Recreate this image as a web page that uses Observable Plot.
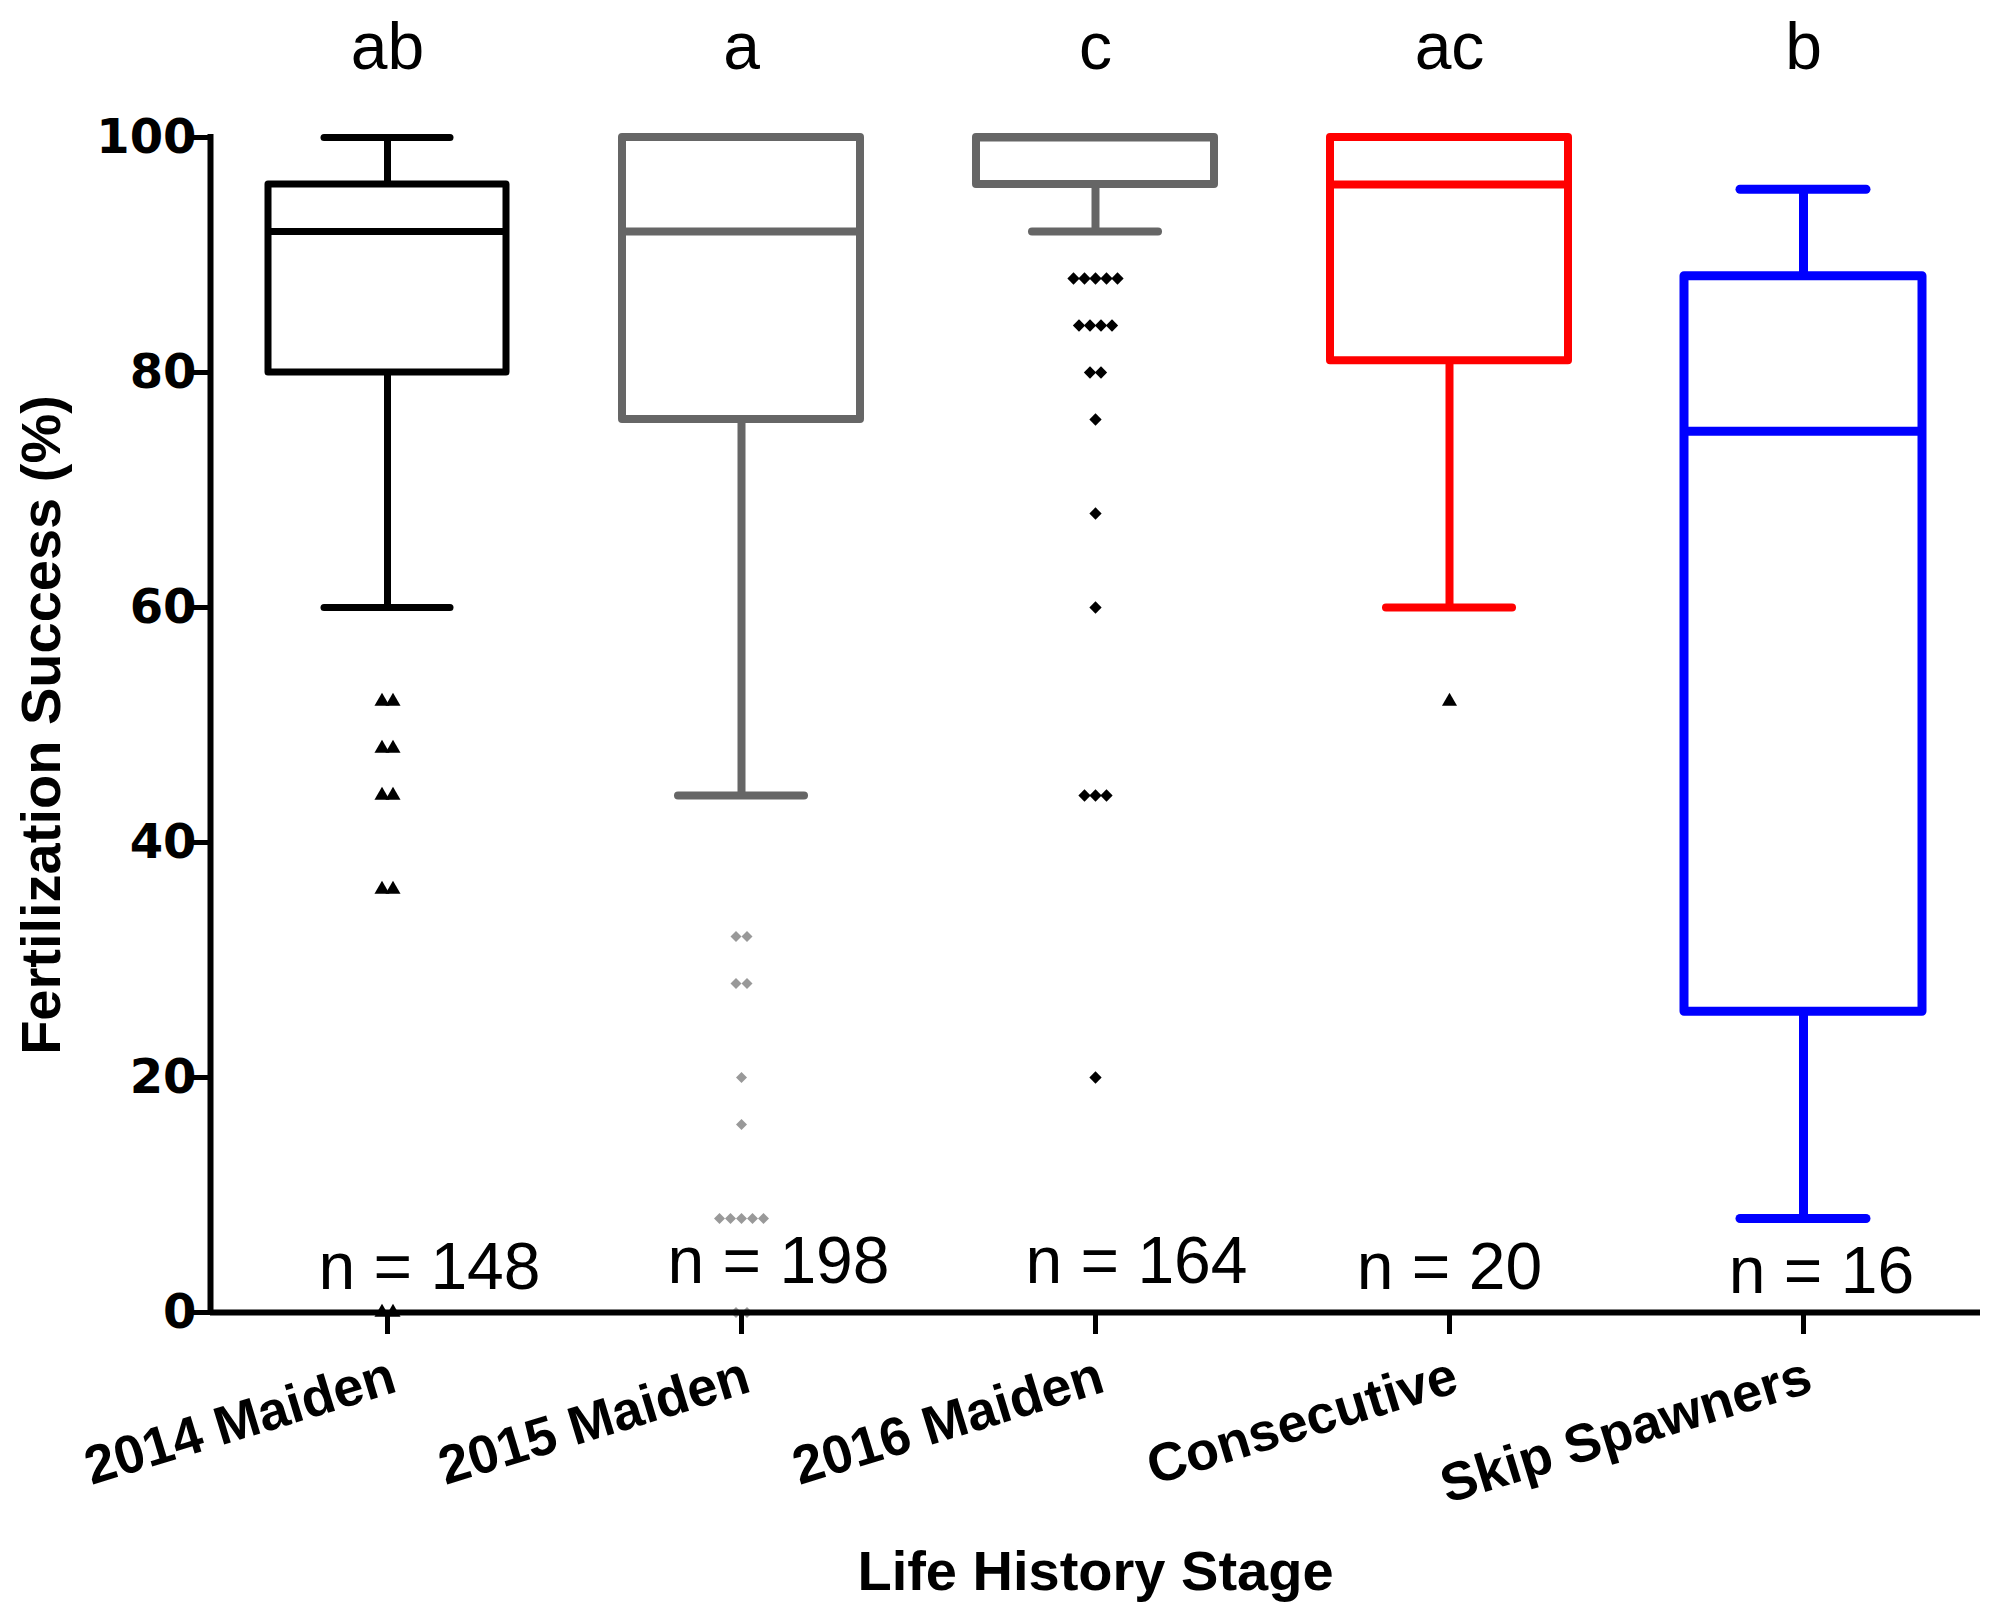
<!DOCTYPE html>
<html><head><meta charset="utf-8">
<script src="https://cdn.jsdelivr.net/npm/d3@7"></script>
<script src="https://cdn.jsdelivr.net/npm/@observablehq/plot@0.6"></script>
<style>html,body{margin:0;padding:0;background:#fff}</style>
</head><body><div id="chart"></div>
<script>
// ---- data ----
const stages = ["2014 Maiden", "2015 Maiden", "2016 Maiden", "Consecutive", "Skip Spawners"];
const whiskerLow  = [60, 44, 92, 60, 8];
const q1          = [80, 76, 96, 81, 25.6];
const median      = [92, 92, 100, 96, 75];
const q3          = [96, 100, 100, 100, 88.2];
const whiskerHigh = [100, 100, 100, 100, 95.6];
const sampleSizes = [148, 198, 164, 20, 16];
const groupLetters = ["ab", "a", "c", "ac", "b"];
const outlierValues = [
  [52, 52, 48, 48, 44, 44, 36, 36, 0, 0],
  [32, 32, 28, 28, 20, 16, 8, 8, 8, 8, 8, 0, 0],
  [88, 88, 88, 88, 88, 84, 84, 84, 84, 80, 80, 76, 68, 60, 44, 44, 44, 20],
  [52],
  []
];
const yTicks = [0, 20, 40, 60, 80, 100];

// ---- styles ----
const boxColors = ["#000000", "#666666", "#666666", "#ff0000", "#0000ff"];
const boxStrokeWidths = [7, 8, 8, 8, 9];
const diamond = {draw(ctx, size) { const h = Math.sqrt(size / 2); ctx.moveTo(0, -h); ctx.lineTo(h, 0); ctx.lineTo(0, h); ctx.lineTo(-h, 0); ctx.closePath(); }};
const outlierSymbols = [d3.symbolTriangle, diamond, diamond, d3.symbolTriangle, null];
const outlierRadii = [5.6, 4.4, 4.9, 5.6, 0];
const outlierColors = ["#000000", "#999999", "#000000", "#000000", "#000000"];
const outlierSpacing = 11;
const nLabelDx = [42, 37, 41, 0, 18];
const nLabelDy = [-24, -30, -30, -24, -20];

const W = 1996, H = 1608, ML = 210, MR = 16, MT = 137, MB = 296;
const halfBand = (W - ML - MR) / stages.length / 2;
const boxInset = 58, capInset = 114;

const boxes = stages.map((stage, i) => ({stage, lo: whiskerLow[i], q1: q1[i], med: median[i], q3: q3[i], hi: whiskerHigh[i], color: boxColors[i], sw: boxStrokeWidths[i]}));

const dotMarks = [];
stages.forEach((stage, i) => {
  const pts = [];
  for (const [v, arr] of d3.group(outlierValues[i], v => v)) {
    arr.forEach((_, j) => pts.push({stage, value: v, k: j - (arr.length - 1) / 2}));
  }
  for (const [k, sub] of d3.group(pts, p => p.k)) {
    dotMarks.push(Plot.dot(sub, {x: "stage", y: "value", symbol: outlierSymbols[i], r: outlierRadii[i], fill: outlierColors[i], stroke: "none", dx: k * outlierSpacing}));
  }
});

const nMarks = stages.map((stage, i) => Plot.text([`n = ${sampleSizes[i]}`], {
  x: () => stage, y: () => 0, text: d => d, dx: nLabelDx[i], dy: nLabelDy[i], lineAnchor: "bottom",
  fontSize: 66, fill: "#000"
}));

const chart = Plot.plot({
  width: W, height: H,
  marginLeft: ML, marginRight: MR, marginTop: MT, marginBottom: MB,
  style: {fontFamily: "'Liberation Sans', Arial, sans-serif", background: "#fff", overflow: "visible"},
  x: {type: "band", domain: stages, padding: 0, axis: null},
  y: {domain: [0, 100], axis: null},
  color: {type: "identity"},
  marks: [
    ...dotMarks,
    // whiskers
    Plot.ruleX(boxes, {x: "stage", y1: "q3", y2: "hi", stroke: "color", strokeWidth: "sw"}),
    Plot.ruleX(boxes, {x: "stage", y1: "q1", y2: "lo", stroke: "color", strokeWidth: "sw"}),
    Plot.tickY(boxes, {x: "stage", y: "hi", stroke: "color", strokeWidth: "sw", insetLeft: capInset, insetRight: capInset, strokeLinecap: "round"}),
    Plot.tickY(boxes, {x: "stage", y: "lo", stroke: "color", strokeWidth: "sw", insetLeft: capInset, insetRight: capInset, strokeLinecap: "round"}),
    // boxes
    Plot.barY(boxes, {x: "stage", y1: "q1", y2: "q3", fill: "#fff", stroke: "color", strokeWidth: "sw", insetLeft: boxInset, insetRight: boxInset, strokeLinejoin: "round"}),
    Plot.tickY(boxes, {x: "stage", y: "med", stroke: "color", strokeWidth: "sw", insetLeft: boxInset, insetRight: boxInset}),
    // axes
    Plot.axisY({ticks: yTicks, tickSize: 20, strokeWidth: 5, tickFormat: () => "", label: null}),
    Plot.text(yTicks, {y: d => d, text: d => String(d), frameAnchor: "left", dx: -14, textAnchor: "end", lineAnchor: "middle", fontSize: 48, fontWeight: "bold", fontFamily: "'DejaVu Sans', sans-serif", fill: "#000"}),
    Plot.axisX({tickSize: 22, strokeWidth: 5, tickRotate: -17, textAnchor: "end", lineAnchor: "top", tickPadding: 20, fontSize: 54, fontWeight: "bold", fontFamily: "'Liberation Sans', Arial, sans-serif", label: null}),
    Plot.ruleY([0], {strokeWidth: 6}),
    Plot.ruleX([stages[0]], {y1: 0, y2: 100, dx: -halfBand, strokeWidth: 6, strokeLinecap: "square"}),
    // labels
    Plot.text(groupLetters, {x: (d, i) => stages[i], frameAnchor: "top", dy: -69, lineAnchor: "bottom", fontSize: 66, fill: "#000"}),
    ...nMarks,
    Plot.text(["Fertilization Success (%)"], {frameAnchor: "left", dx: -190, rotate: -90, textAnchor: "middle", lineAnchor: "top", fontSize: 56, fontWeight: "bold", fill: "#000"}),
    Plot.text(["Life History Stage"], {frameAnchor: "bottom", dy: 277, lineAnchor: "bottom", fontSize: 56, fontWeight: "bold", fill: "#000"})
  ]
});
document.getElementById("chart").appendChild(chart);
</script>
</body></html>
